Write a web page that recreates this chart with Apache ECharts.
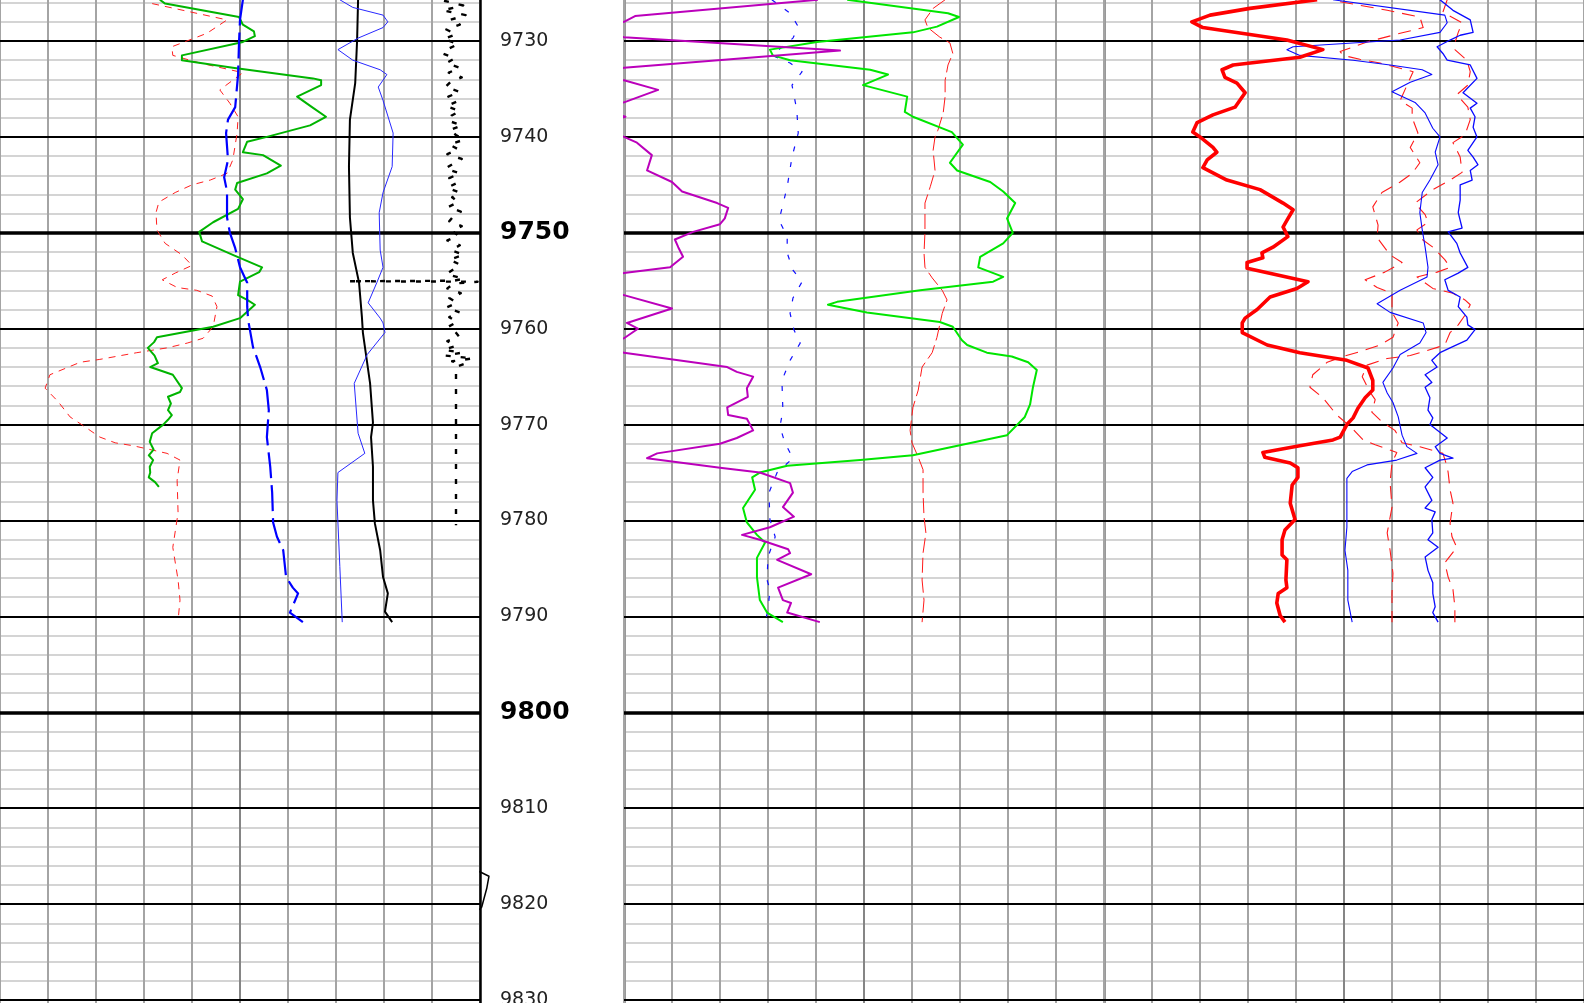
<!DOCTYPE html>
<html><head><meta charset="utf-8">
<script src="https://cdn.jsdelivr.net/npm/echarts@6/dist/echarts.min.js"></script>
<style>html,body{margin:0;padding:0;background:#fff}#c{width:1584px;height:1003px}</style>
</head><body><div id="c"></div>
<script>
// ---- depth scale (feet) ----
const depthMin = 9700, depthMax = 9850;
const minorStep = 2, majorStep = 10, heavyStep = 50;

// ---- curves: [depth ft, value in track divisions 0..10] ----
// Track 1
const t1Green = [[9725.7,3.33],[9726.1,3.44],[9727.5,4.98],[9728.3,5.06],[9729.0,5.29],[9729.5,5.31],[9730.1,5.06],[9731.5,3.79],[9732.0,3.79],[9732.8,4.85],[9733.9,6.52],[9734.1,6.69],[9734.6,6.69],[9735.8,6.19],[9736.9,6.50],[9737.9,6.79],[9738.8,6.46],[9740.0,5.56],[9740.5,5.15],[9741.6,5.06],[9741.9,5.48],[9743.0,5.85],[9743.8,5.56],[9744.8,4.94],[9745.5,4.90],[9746.5,5.06],[9747.5,4.96],[9748.9,4.44],[9749.9,4.15],[9750.9,4.21],[9752.3,4.85],[9753.6,5.46],[9754.1,5.40],[9755.1,5.00],[9756.5,4.96],[9757.0,5.15],[9757.5,5.31],[9758.9,5.00],[9759.8,4.44],[9760.9,3.27],[9761.4,3.21],[9762.0,3.08],[9762.8,3.22],[9763.6,3.29],[9764.0,3.13],[9764.8,3.60],[9766.2,3.79],[9766.6,3.75],[9767.1,3.50],[9767.8,3.56],[9768.5,3.50],[9769.0,3.58],[9769.5,3.50],[9770.0,3.40],[9770.9,3.17],[9771.8,3.12],[9772.6,3.20],[9773.2,3.10],[9773.7,3.19],[9774.4,3.12],[9775.0,3.13],[9775.5,3.10],[9776.0,3.23],[9776.5,3.31]];
const t1RedDash = [[9726.1,3.17],[9727.8,4.73],[9729.2,4.31],[9730.6,3.58],[9731.5,3.60],[9732.3,4.17],[9733.3,5.06],[9735.1,4.58],[9736.5,4.79],[9737.9,4.96],[9739.6,4.94],[9742.4,4.85],[9743.8,4.73],[9744.5,4.38],[9745.0,4.00],[9745.8,3.65],[9746.8,3.31],[9747.9,3.25],[9749.7,3.27],[9751.1,3.44],[9752.3,3.79],[9753.4,4.00],[9754.2,3.65],[9754.9,3.38],[9755.7,3.69],[9756.0,4.10],[9756.6,4.42],[9757.7,4.52],[9759.8,4.44],[9761.0,4.23],[9761.5,3.90],[9762.0,3.48],[9762.5,2.85],[9763.2,2.08],[9763.5,1.67],[9764.8,1.04],[9766.2,0.94],[9767.6,1.21],[9769.2,1.46],[9770.1,1.73],[9771.3,2.08],[9771.9,2.40],[9772.2,2.77],[9773.0,3.48],[9773.7,3.75],[9775.8,3.69],[9779.2,3.71],[9782.8,3.60],[9786.2,3.71],[9788.3,3.75],[9790.4,3.71]];
const t1BlueDash = [[9725.7,5.06],[9727.8,5.00],[9730.1,4.98],[9733.5,4.96],[9736.9,4.90],[9738.2,4.75],[9739.6,4.71],[9742.4,4.75],[9744.2,4.67],[9745.7,4.73],[9748.4,4.73],[9750.0,4.79],[9751.6,4.90],[9753.6,5.00],[9755.2,5.15],[9757.7,5.15],[9759.1,5.17],[9761.9,5.27],[9764.0,5.42],[9766.4,5.56],[9768.5,5.60],[9771.3,5.56],[9774.4,5.63],[9777.1,5.67],[9780.2,5.69],[9781.7,5.77],[9783.1,5.90],[9785.9,5.96],[9787.0,6.10],[9787.6,6.21],[9789.6,6.04],[9790.6,6.31]];
const t1Black = [[9725.7,7.46],[9729.9,7.44],[9734.4,7.40],[9738.2,7.29],[9743.1,7.27],[9748.4,7.29],[9752.1,7.35],[9755.2,7.48],[9758.8,7.54],[9760.4,7.56],[9765.7,7.71],[9769.8,7.77],[9771.3,7.73],[9774.4,7.77],[9777.9,7.77],[9780.3,7.81],[9783.1,7.92],[9785.9,7.98],[9787.6,8.08],[9789.5,8.02],[9790.6,8.17]];
const t1BlueThin = [[9725.7,7.08],[9726.5,7.35],[9727.3,7.98],[9728.0,8.08],[9728.6,7.98],[9729.7,7.46],[9730.9,7.04],[9732.0,7.35],[9733.0,7.92],[9733.5,8.06],[9734.8,7.88],[9736.2,7.98],[9739.6,8.19],[9743.1,8.17],[9745.8,7.98],[9747.9,7.90],[9751.8,7.92],[9753.6,7.98],[9755.2,7.85],[9757.3,7.67],[9758.9,7.92],[9759.4,7.98],[9760.4,8.02],[9762.7,7.65],[9765.7,7.38],[9770.9,7.46],[9773.0,7.60],[9775.0,7.04],[9777.9,7.02],[9784.8,7.08],[9790.6,7.13]];
const t1Dotted = [[9725.8,9.25],[9726.3,9.65],[9726.8,9.22],[9727.3,9.70],[9727.8,9.38],[9728.3,9.58],[9728.8,9.30],[9729.3,9.50],[9729.8,9.24],[9730.3,9.55],[9730.8,9.35],[9731.3,9.22],[9731.8,9.48],[9732.3,9.30],[9732.8,9.58],[9733.3,9.35],[9733.8,9.62],[9734.3,9.38],[9734.8,9.28],[9735.3,9.58],[9735.8,9.34],[9736.3,9.52],[9736.8,9.30],[9737.3,9.58],[9737.8,9.40],[9738.3,9.33],[9738.8,9.62],[9739.3,9.36],[9739.8,9.50],[9740.3,9.66],[9740.8,9.36],[9741.3,9.55],[9741.8,9.32],[9742.3,9.62],[9742.8,9.44],[9743.3,9.28],[9743.8,9.58],[9744.3,9.36],[9744.8,9.52],[9745.3,9.32],[9745.8,9.58],[9746.3,9.42],[9746.8,9.55],[9747.3,9.34],[9747.8,9.60],[9748.3,9.44],[9748.8,9.36],[9749.3,9.62],[9749.8,9.42],[9750.3,9.55],[9750.8,9.32],[9751.3,9.58],[9751.8,9.40],[9752.3,9.66],[9752.8,9.36],[9753.3,9.58],[9753.8,9.45],[9754.3,9.30],[9754.8,9.66],[9755.0,9.45],[9755.05,7.25],[9755.1,9.95],[9755.3,9.45],[9755.8,9.32],[9756.3,9.60],[9756.8,9.36],[9757.3,9.52],[9757.8,9.30],[9758.3,9.58],[9758.8,9.36],[9759.3,9.52],[9759.8,9.34],[9760.3,9.48],[9760.8,9.56],[9761.3,9.32],[9761.8,9.50],[9762.2,9.25],[9762.5,9.62],[9762.8,9.28],[9763.1,9.85],[9763.4,9.42],[9763.7,9.66],[9764.0,9.50],[9780.5,9.50]];
// short curve crossing the track-1 / depth-track boundary (depth-track divisions)
const depthEdge = [[9816.6,-0.05],[9817.1,0.62],[9818.35,0.47],[9820.3,0.12],[9820.6,-0.05]];

// Track 2
const t2Magenta = [[9725.7,4.04],[9727.4,0.23],[9728.0,0.00],[9728.8,-1.0],[9729.6,0.00],[9731.0,4.50],[9732.8,0.00],[9733.6,-0.8],[9734.1,0.00],[9735.1,0.71],[9736.4,0.00],[9737.0,-0.6],[9737.9,0.03],[9738.8,-0.6],[9740.0,0.00],[9740.6,0.27],[9741.9,0.58],[9743.5,0.48],[9744.7,1.00],[9745.7,1.21],[9746.9,1.94],[9747.4,2.17],[9748.5,2.10],[9749.1,2.00],[9749.9,1.44],[9750.7,1.06],[9751.5,1.13],[9752.5,1.23],[9753.6,0.96],[9754.2,0.00],[9755.3,-1.5],[9756.5,0.00],[9757.9,1.00],[9759.4,0.06],[9760.0,0.29],[9761.0,0.00],[9761.8,-1.0],[9762.5,0.00],[9764.0,2.15],[9764.5,2.35],[9765.0,2.69],[9766.2,2.56],[9767.1,2.58],[9768.2,2.15],[9769.0,2.17],[9769.4,2.56],[9770.6,2.69],[9771.4,2.35],[9772.0,2.00],[9773.0,0.69],[9773.5,0.48],[9774.5,2.00],[9775.0,2.83],[9776.1,3.46],[9777.1,3.52],[9778.6,3.31],[9779.6,3.54],[9780.7,3.04],[9781.5,2.46],[9782.0,2.83],[9783.0,3.42],[9783.4,3.46],[9784.1,3.19],[9785.6,3.90],[9787.0,3.21],[9788.3,3.31],[9788.6,3.48],[9789.6,3.40],[9790.6,4.08]];
const t2Green = [[9725.7,4.65],[9727.1,6.75],[9727.5,6.98],[9728.5,6.52],[9729.1,6.02],[9730.1,4.02],[9730.9,3.04],[9731.5,3.10],[9732.0,3.46],[9733.0,5.13],[9733.5,5.50],[9734.6,4.98],[9735.8,5.90],[9737.4,5.85],[9737.9,6.02],[9739.5,6.83],[9740.8,7.06],[9742.7,6.79],[9743.5,6.94],[9744.7,7.63],[9745.7,7.90],[9746.9,8.15],[9748.5,7.98],[9750.0,8.10],[9751.1,7.90],[9752.5,7.42],[9753.6,7.38],[9754.6,7.90],[9755.1,7.69],[9756.0,6.17],[9757.2,4.44],[9757.5,4.25],[9758.3,5.06],[9759.3,6.58],[9759.8,6.85],[9761.2,7.04],[9761.7,7.15],[9762.5,7.56],[9762.9,8.08],[9763.5,8.42],[9764.3,8.60],[9766.1,8.52],[9767.9,8.46],[9769.2,8.35],[9771.1,7.98],[9772.3,6.85],[9773.2,6.02],[9773.7,4.92],[9774.3,3.40],[9775.0,2.83],[9775.5,2.67],[9776.8,2.73],[9778.7,2.48],[9780.2,2.56],[9781.5,2.77],[9782.3,2.94],[9783.9,2.77],[9785.9,2.77],[9788.3,2.83],[9789.6,2.98],[9790.6,3.31]];
const t2BlueDot = [[9725.7,3.08],[9727.1,3.46],[9728.5,3.63],[9729.7,3.52],[9731.5,3.08],[9732.3,3.46],[9733.2,3.71],[9734.6,3.50],[9737.2,3.60],[9739.6,3.63],[9742.1,3.50],[9745.2,3.40],[9748.7,3.23],[9750.4,3.40],[9752.1,3.40],[9753.9,3.52],[9755.1,3.71],[9756.8,3.52],[9758.4,3.46],[9760.1,3.54],[9761.5,3.67],[9763.3,3.46],[9765.4,3.29],[9768.5,3.31],[9770.2,3.25],[9771.9,3.35],[9773.5,3.52],[9775.0,3.19],[9777.1,3.02],[9779.9,3.04],[9781.7,3.15],[9783.8,3.00],[9786.2,2.98],[9787.2,3.04],[9789.3,3.00],[9790.6,2.94]];
const t2RedDash = [[9725.7,6.69],[9726.6,6.44],[9727.8,6.27],[9728.6,6.33],[9729.6,6.58],[9730.2,6.79],[9731.3,6.85],[9732.5,6.75],[9734.1,6.69],[9735.8,6.69],[9737.5,6.65],[9739.3,6.54],[9740.0,6.48],[9741.4,6.44],[9743.5,6.48],[9745.2,6.38],[9746.9,6.27],[9750.0,6.27],[9752.1,6.25],[9753.6,6.27],[9754.7,6.42],[9756.0,6.63],[9757.0,6.73],[9758.4,6.63],[9760.9,6.52],[9762.5,6.42],[9764.0,6.21],[9766.4,6.13],[9768.2,6.02],[9770.6,5.96],[9771.9,6.00],[9773.4,6.13],[9774.7,6.23],[9777.1,6.23],[9779.6,6.25],[9781.3,6.29],[9783.4,6.23],[9786.2,6.21],[9788.3,6.25],[9790.6,6.21]];

// Track 3
const t3RedThick = [[9725.7,4.44],[9726.6,3.04],[9727.3,2.21],[9728.0,1.83],[9728.6,2.06],[9729.9,3.81],[9730.9,4.56],[9731.7,4.08],[9732.5,2.69],[9733.0,2.46],[9733.8,2.52],[9734.4,2.77],[9735.4,2.94],[9736.9,2.73],[9737.7,2.27],[9738.5,1.94],[9739.5,1.85],[9740.0,2.00],[9741.1,2.27],[9741.6,2.35],[9742.4,2.15],[9743.2,2.06],[9744.5,2.56],[9745.5,3.25],[9746.9,3.73],[9747.6,3.94],[9748.7,3.81],[9749.4,3.73],[9750.4,3.83],[9751.5,3.52],[9752.1,3.29],[9752.6,3.31],[9753.1,2.98],[9753.7,2.98],[9755.1,4.25],[9755.8,4.02],[9756.7,3.46],[9758.0,3.19],[9758.9,2.94],[9759.4,2.88],[9760.4,2.88],[9761.7,3.40],[9762.5,4.08],[9763.3,5.06],[9764.1,5.50],[9765.4,5.60],[9766.4,5.60],[9767.2,5.44],[9768.3,5.29],[9769.3,5.19],[9770.0,5.06],[9771.3,4.92],[9771.6,4.77],[9772.2,4.08],[9772.9,3.31],[9773.4,3.35],[9774.0,3.88],[9774.5,4.04],[9775.5,4.04],[9776.3,3.92],[9778.2,3.88],[9779.9,3.98],[9781.0,3.77],[9782.0,3.71],[9783.6,3.71],[9784.1,3.81],[9786.2,3.79],[9787.0,3.81],[9787.6,3.63],[9788.6,3.60],[9789.9,3.67],[9790.6,3.77]];
const t3BlueLeft = [[9725.7,4.77],[9727.3,7.10],[9728.1,7.15],[9729.1,7.00],[9729.9,6.17],[9730.6,3.94],[9730.9,3.81],[9731.5,4.08],[9732.0,5.19],[9732.5,5.96],[9733.0,6.63],[9733.5,6.83],[9734.3,6.38],[9735.3,6.00],[9736.4,6.48],[9737.5,6.69],[9739.1,6.85],[9740.0,7.00],[9741.6,6.90],[9742.9,6.96],[9744.5,6.79],[9745.8,6.63],[9747.9,6.58],[9749.7,6.63],[9751.5,6.69],[9753.6,6.75],[9754.6,6.73],[9756.0,6.17],[9757.4,5.69],[9758.3,5.96],[9759.4,6.65],[9760.4,6.71],[9761.5,6.58],[9762.7,6.17],[9764.1,6.02],[9765.6,5.81],[9766.7,5.90],[9767.7,6.02],[9769.2,6.13],[9771.1,6.21],[9772.3,6.31],[9773.0,6.52],[9773.7,6.10],[9774.2,5.48],[9774.9,5.17],[9775.6,5.06],[9780.7,5.06],[9783.1,5.02],[9785.2,5.08],[9788.3,5.08],[9790.6,5.17]];
const t3BlueRight = [[9725.7,7.00],[9726.8,7.27],[9727.8,7.63],[9729.1,7.69],[9729.4,7.42],[9729.9,7.21],[9730.6,6.94],[9731.3,7.06],[9732.0,7.15],[9732.5,7.63],[9733.9,7.77],[9735.4,7.48],[9736.5,7.77],[9737.0,7.63],[9737.9,7.73],[9739.0,7.69],[9740.0,7.77],[9741.4,7.58],[9742.1,7.69],[9742.9,7.79],[9743.5,7.63],[9744.5,7.67],[9745.0,7.42],[9746.6,7.42],[9747.9,7.38],[9749.5,7.46],[9749.9,7.17],[9751.1,7.35],[9752.1,7.42],[9753.6,7.58],[9754.2,7.38],[9754.9,7.10],[9756.0,7.17],[9756.7,7.42],[9757.7,7.38],[9758.8,7.56],[9759.6,7.58],[9760.1,7.73],[9761.2,7.56],[9762.0,7.21],[9762.5,7.00],[9763.3,6.83],[9764.0,6.94],[9764.8,6.69],[9765.6,6.83],[9766.1,6.69],[9767.2,6.79],[9768.5,6.75],[9769.3,6.85],[9770.0,6.79],[9771.4,7.15],[9772.3,6.90],[9773.0,7.00],[9773.5,7.27],[9773.7,7.00],[9774.5,6.69],[9775.5,6.85],[9776.5,6.69],[9777.9,6.83],[9778.7,6.69],[9779.1,6.90],[9779.9,6.83],[9781.3,6.85],[9782.0,6.75],[9782.8,6.96],[9783.8,6.69],[9785.2,6.75],[9786.5,6.85],[9787.6,6.85],[9789.0,6.90],[9789.6,6.85],[9790.6,6.96]];
const t3RedDashLeft = [[9725.9,4.92],[9726.8,5.90],[9727.5,6.58],[9728.6,6.65],[9729.2,6.17],[9730.1,5.48],[9731.1,4.92],[9731.5,4.98],[9731.9,5.33],[9732.3,5.75],[9733.2,6.44],[9736.2,6.17],[9737.0,6.42],[9738.0,6.42],[9739.6,6.54],[9741.1,6.38],[9742.7,6.58],[9743.8,6.42],[9744.7,6.17],[9745.8,5.79],[9747.3,5.60],[9749.2,5.71],[9750.5,5.69],[9752.3,5.96],[9753.1,6.21],[9754.1,5.85],[9754.9,5.44],[9755.7,5.69],[9756.3,6.00],[9758.3,6.00],[9759.4,6.13],[9760.9,6.02],[9761.7,5.75],[9762.4,5.33],[9762.9,4.98],[9763.5,4.65],[9764.8,4.35],[9766.1,4.29],[9767.2,4.56],[9769.0,4.85],[9770.2,5.13],[9771.6,5.40],[9772.1,5.65],[9772.9,6.10],[9774.0,6.00],[9776.0,5.96],[9778.6,6.00],[9781.3,5.90],[9783.1,5.96],[9785.5,6.02],[9787.6,6.00],[9790.6,6.00]];
const t3RedDashRight = [[9725.7,7.15],[9727.0,7.06],[9728.1,7.46],[9729.1,7.38],[9730.2,7.31],[9730.9,7.31],[9732.0,7.56],[9733.2,7.63],[9734.6,7.58],[9735.6,7.35],[9736.9,7.58],[9738.2,7.63],[9739.8,7.52],[9740.6,7.27],[9742.1,7.42],[9743.7,7.46],[9744.5,7.21],[9745.5,6.85],[9746.9,6.48],[9748.1,6.69],[9748.9,6.75],[9749.7,6.52],[9750.7,6.63],[9751.5,6.85],[9752.8,7.10],[9753.6,7.21],[9754.1,6.94],[9754.6,6.52],[9755.8,6.85],[9756.3,7.27],[9757.0,7.52],[9757.5,7.63],[9758.6,7.52],[9759.6,7.38],[9760.4,7.21],[9761.7,7.10],[9762.4,6.65],[9762.8,6.38],[9763.1,5.90],[9763.8,5.48],[9765.0,5.38],[9766.6,5.54],[9767.4,5.65],[9768.7,5.58],[9769.7,5.79],[9770.6,6.06],[9771.9,6.21],[9772.3,6.58],[9773.0,7.06],[9774.4,7.15],[9775.0,7.17],[9776.8,7.21],[9778.2,7.27],[9780.3,7.21],[9781.7,7.25],[9782.8,7.35],[9784.4,7.10],[9785.9,7.17],[9787.2,7.27],[9789.0,7.31],[9790.6,7.31]];

// ---- layout (pixels) ----
const TOP = -246.7, HEIGHT = 1438.5;
const tracks = [{left:0,width:480},{left:480,width:144},{left:624,width:480},{left:1104,width:480}];
const vGridColors = ['#a4a4a4','#a4a4a4','#a4a4a4','#a4a4a4','#a4a4a4','#858585','#a4a4a4','#a4a4a4','#a4a4a4','#a4a4a4','#a4a4a4'];

const grids = tracks.map(t => ({left:t.left, width:t.width, top:TOP, height:HEIGHT, containLabel:false, outerBoundsMode:'none'}));
const xAxes = [], yAxes = [];
const minorIdx = {};
tracks.forEach((t, gi) => {
  if (gi === 1) {
    xAxes.push({gridIndex:gi, type:'value', min:0, max:10, show:false});
    minorIdx[gi] = yAxes.length;
    yAxes.push({gridIndex:gi, type:'value', min:depthMin, max:depthMax, interval:majorStep, inverse:true, position:'left', z:6,
      axisLine:{show:true, lineStyle:{color:'#000', width:2.5}}, axisTick:{show:false}, splitLine:{show:false},
      axisLabel:{inside:true, margin:20, showMinLabel:true, showMaxLabel:true,
        formatter: v => (v % heavyStep === 0 ? '{b|' + v + '}' : '{n|' + v + '}'),
        rich:{ n:{fontFamily:'DejaVu Sans', fontSize:19, color:'#222'},
               b:{fontFamily:'DejaVu Sans', fontWeight:'bold', fontSize:25, color:'#000'} } }});
    return;
  }
  xAxes.push({gridIndex:gi, type:'value', min:0, max:10, interval:1, z:1,
    axisLine:{show:false}, axisTick:{show:false}, axisLabel:{show:false},
    splitLine:{show:true, showMinLine:true, showMaxLine:true, lineStyle:{color:vGridColors, width:2}}});
  minorIdx[gi] = yAxes.length;
  yAxes.push({gridIndex:gi, type:'value', min:depthMin, max:depthMax, interval:minorStep, inverse:true, z:0, position:'left',
    axisLine:{show: gi !== 0, lineStyle:{color:'#999', width:3}}, axisTick:{show:false}, axisLabel:{show:false},
    splitLine:{show:true, lineStyle:{color:'#c6c6c6', width:1.6}}});
  yAxes.push({gridIndex:gi, type:'value', min:depthMin, max:depthMax, interval:majorStep, inverse:true, z:2, position:'right',
    axisLine:{show:false}, axisTick:{show:false}, axisLabel:{show:false},
    splitLine:{show:true, lineStyle:{color:'#000', width:2}}});
  yAxes.push({gridIndex:gi, type:'value', min:depthMin, max:depthMax, interval:heavyStep, inverse:true, z:3, position:'right', offset:20,
    axisLine:{show:false}, axisTick:{show:false}, axisLabel:{show:false},
    splitLine:{show:true, lineStyle:{color:'#000', width:3.5}}});
});

function curve(data, gi, color, width, type, extra) {
  return Object.assign({
    type:'line', data:data.map(p => [p[1], p[0]]), xAxisIndex:gi, yAxisIndex:minorIdx[gi],
    symbol:'none', showSymbol:false, smooth:false, silent:true, animation:false, z:5,
    lineStyle:{color:color, width:width, type:type || 'solid', cap:'butt', join:'round'}
  }, extra || {});
}

const series = [
  curve(t1RedDash, 0, '#ff2020', 1, [7,6]),
  curve(t1Green, 0, '#00b400', 2),
  curve(t1BlueDash, 0, '#0000ff', 2.2, [26,7]),
  curve(t1Black, 0, '#000', 2),
  curve(t1BlueThin, 0, '#2828ff', 1),
  curve(t1Dotted, 0, '#000', 2.4, [5,10]),
  curve(depthEdge, 1, '#000', 1.5, 'solid', {clip:false, z:8}),
  curve(t2RedDash, 2, '#ff1a1a', 1, [15,5]),
  curve(t2BlueDot, 2, '#1010ff', 1.2, [5,11]),
  curve(t2Green, 2, '#00e600', 2),
  curve(t2Magenta, 2, '#bb00bb', 2),
  curve(t3RedDashLeft, 3, '#ff1a1a', 1.1, [13,8]),
  curve(t3RedDashRight, 3, '#ff1a1a', 1.1, [13,8]),
  curve(t3BlueLeft, 3, '#0a0aff', 1.1),
  curve(t3BlueRight, 3, '#0a0aff', 1.3),
  curve(t3RedThick, 3, '#ff0000', 3.6)
];

const chart = echarts.init(document.getElementById('c'), null, {renderer:'canvas'});
chart.setOption({animation:false, backgroundColor:'#fff', grid:grids, xAxis:xAxes, yAxis:yAxes, series:series});
</script>
</body></html>
